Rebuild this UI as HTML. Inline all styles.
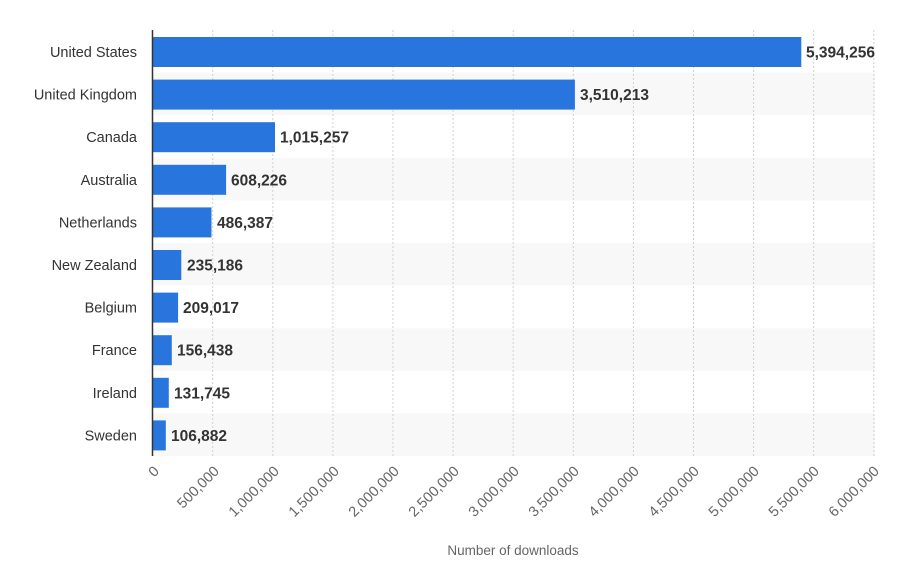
<!DOCTYPE html>
<html><head><meta charset="utf-8"><style>
body{margin:0;background:#fff;}
svg text{font-family:"Liberation Sans",sans-serif;}
</style></head><body>
<svg width="912" height="574" xmlns="http://www.w3.org/2000/svg">
<g id="bands" fill="#f8f8f8">
<rect x="153" y="72.6" width="722" height="42.6"/>
<rect x="153" y="157.8" width="722" height="42.6"/>
<rect x="153" y="243" width="722" height="42.6"/>
<rect x="153" y="328.2" width="722" height="42.6"/>
<rect x="153" y="413.4" width="722" height="42.6"/>
</g>
<g stroke="#d0d0d0" stroke-dasharray="2,2" stroke-width="1">
<line x1="212.7" y1="30" x2="212.7" y2="456"/>
<line x1="272.8" y1="30" x2="272.8" y2="456"/>
<line x1="332.9" y1="30" x2="332.9" y2="456"/>
<line x1="393" y1="30" x2="393" y2="456"/>
<line x1="453.1" y1="30" x2="453.1" y2="456"/>
<line x1="513.2" y1="30" x2="513.2" y2="456"/>
<line x1="573.3" y1="30" x2="573.3" y2="456"/>
<line x1="633.4" y1="30" x2="633.4" y2="456"/>
<line x1="693.5" y1="30" x2="693.5" y2="456"/>
<line x1="753.6" y1="30" x2="753.6" y2="456"/>
<line x1="813.7" y1="30" x2="813.7" y2="456"/>
<line x1="873.8" y1="30" x2="873.8" y2="456"/>
</g>
<g fill="#2876dd">
<rect x="153" y="37" width="648.3" height="30"/>
<rect x="153" y="79.6" width="421.9" height="30"/>
<rect x="153" y="122.2" width="122" height="30"/>
<rect x="153" y="164.8" width="73.1" height="30"/>
<rect x="153" y="207.4" width="58.5" height="30"/>
<rect x="153" y="250" width="28.3" height="30"/>
<rect x="153" y="292.6" width="25.1" height="30"/>
<rect x="153" y="335.2" width="18.8" height="30"/>
<rect x="153" y="377.8" width="15.8" height="30"/>
<rect x="153" y="420.4" width="12.8" height="30"/>
</g>
<line x1="152.5" y1="30" x2="152.5" y2="456" stroke="#333" stroke-width="1.5"/>
<g font-size="14.5" fill="#333" text-anchor="end">
<text x="137" y="57">United States</text>
<text x="137" y="99.6">United Kingdom</text>
<text x="137" y="142.2">Canada</text>
<text x="137" y="184.8">Australia</text>
<text x="137" y="227.4">Netherlands</text>
<text x="137" y="270">New Zealand</text>
<text x="137" y="312.6">Belgium</text>
<text x="137" y="355.2">France</text>
<text x="137" y="397.8">Ireland</text>
<text x="137" y="440.4">Sweden</text>
</g>
<g font-size="15.5" font-weight="bold" fill="#333">
<text x="806" y="57.5">5,394,256</text>
<text x="580" y="100">3,510,213</text>
<text x="280" y="142.7">1,015,257</text>
<text x="231" y="185.3">608,226</text>
<text x="217" y="227.9">486,387</text>
<text x="187" y="270.5">235,186</text>
<text x="183" y="313.1">209,017</text>
<text x="177" y="355.7">156,438</text>
<text x="174" y="398.3">131,745</text>
<text x="171" y="440.9">106,882</text>
</g>
<g font-size="14.5" fill="#666" text-anchor="end">
<text transform="translate(160,472) rotate(-45)">0</text>
<text transform="translate(220,472) rotate(-45)">500,000</text>
<text transform="translate(280,472) rotate(-45)">1,000,000</text>
<text transform="translate(340,472) rotate(-45)">1,500,000</text>
<text transform="translate(400,472) rotate(-45)">2,000,000</text>
<text transform="translate(460,472) rotate(-45)">2,500,000</text>
<text transform="translate(520,472) rotate(-45)">3,000,000</text>
<text transform="translate(580,472) rotate(-45)">3,500,000</text>
<text transform="translate(640,472) rotate(-45)">4,000,000</text>
<text transform="translate(700,472) rotate(-45)">4,500,000</text>
<text transform="translate(760,472) rotate(-45)">5,000,000</text>
<text transform="translate(820,472) rotate(-45)">5,500,000</text>
<text transform="translate(880,472) rotate(-45)">6,000,000</text>
</g>
<text x="513" y="555" font-size="13.5" fill="#666" text-anchor="middle">Number of downloads</text>
</svg>
</body></html>
